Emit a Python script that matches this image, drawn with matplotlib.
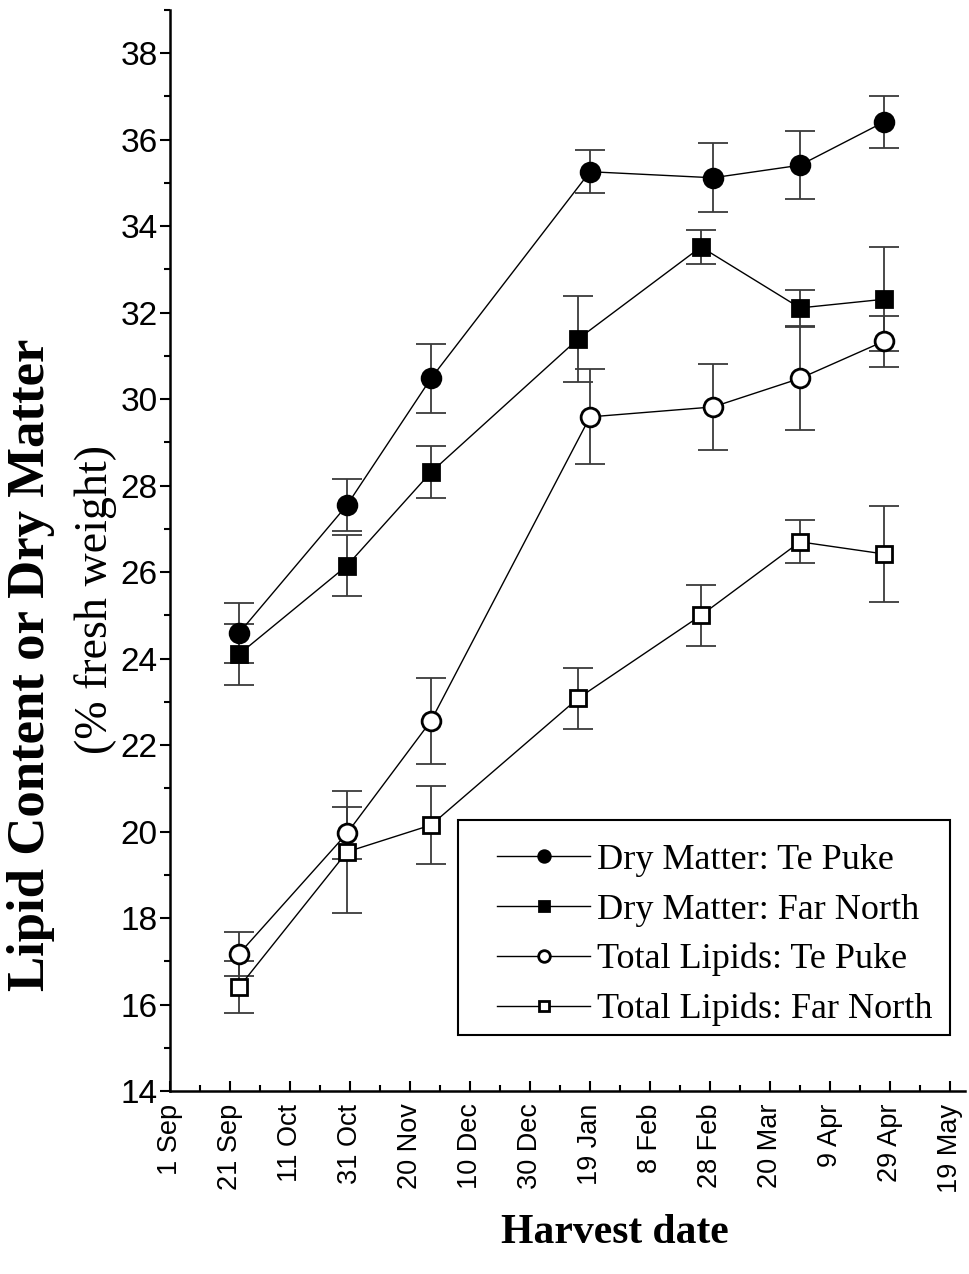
import matplotlib
matplotlib.use('Agg')
import matplotlib.pyplot as plt
import numpy as np
import pandas as pd
from matplotlib.ticker import MultipleLocator
from matplotlib.patches import Rectangle

# ---------------- data ----------------
origin = pd.Timestamp('2002-09-01')
tick_labels = ['1 Sep', '21 Sep', '11 Oct', '31 Oct', '20 Nov', '10 Dec', '30 Dec',
               '19 Jan', '8 Feb', '28 Feb', '20 Mar', '9 Apr', '29 Apr', '19 May']

dates_te_puke = ['2002-09-24', '2002-10-30', '2002-11-27', '2003-01-19',
                 '2003-03-01', '2003-03-30', '2003-04-27']
dates_far_north = ['2002-09-24', '2002-10-30', '2002-11-27', '2003-01-15',
                   '2003-02-25', '2003-03-30', '2003-04-27']

dm_te_puke = [24.59, 27.55, 30.48, 35.26, 35.12, 35.41, 36.41]
dm_te_puke_err = [0.69, 0.60, 0.80, 0.50, 0.80, 0.79, 0.60]
dm_far_north = [24.10, 26.15, 28.31, 31.39, 33.52, 32.11, 32.31]
dm_far_north_err = [0.70, 0.70, 0.60, 1.00, 0.40, 0.41, 1.20]
tl_te_puke = [17.17, 19.96, 22.56, 29.59, 29.82, 30.48, 31.34]
tl_te_puke_err = [0.50, 0.60, 1.00, 1.10, 1.00, 1.20, 0.59]
tl_far_north = [16.40, 19.53, 20.15, 23.08, 25.00, 26.70, 26.42]
tl_far_north_err = [0.60, 1.41, 0.90, 0.70, 0.70, 0.50, 1.10]

labels = ['Dry Matter: Te Puke', 'Dry Matter: Far North',
          'Total Lipids: Te Puke', 'Total Lipids: Far North']


def to_days(ds):
    return np.array([(pd.Timestamp(d) - origin).days for d in ds], dtype=float)


x_tp = to_days(dates_te_puke)
x_fn = to_days(dates_far_north)

# ---------------- figure ----------------
fig = plt.figure(figsize=(9.69, 12.74), dpi=100)
ax = fig.add_axes([170 / 969, 1 - 1091 / 1274, 795 / 969, 1081 / 1274])

series = [
    (x_tp, dm_te_puke, dm_te_puke_err, 'o', 'black', 13.5),
    (x_fn, dm_far_north, dm_far_north_err, 's', 'black', 12),
    (x_tp, tl_te_puke, tl_te_puke_err, 'o', 'white', 13.5),
    (x_fn, tl_far_north, tl_far_north_err, 's', 'white', 12),
]
handles = []
for (x, y, e, m, fc, ms), lab in zip(series, labels):
    ax.errorbar(x, y, yerr=e, fmt='none', ecolor='#3a3a3a', elinewidth=1.3,
                capsize=11, capthick=1.3, zorder=2)
    h, = ax.plot(x, y, '-', color='black', lw=1.0, marker=m, markersize=ms,
                 markerfacecolor=fc, markeredgecolor='black', markeredgewidth=2.0,
                 label=lab, zorder=3)
    handles.append(h)

ax.set_xlim(0, 265)
ax.set_ylim(14, 39)

ax.set_xticks(np.arange(0, 261, 20))
ax.set_xticklabels(tick_labels, rotation=90, fontfamily='Liberation Sans', fontsize=19.5)
ax.xaxis.set_minor_locator(MultipleLocator(10))
ax.yaxis.set_major_locator(MultipleLocator(2))
ax.yaxis.set_minor_locator(MultipleLocator(1))
for t in ax.get_yticklabels():
    t.set_fontfamily('Liberation Sans')
    t.set_fontsize(24)

ax.tick_params(axis='x', which='major', direction='in', length=7.5, width=1.5, pad=9)
ax.tick_params(axis='x', which='minor', direction='in', length=4.5, width=1.5)
ax.tick_params(axis='y', which='major', direction='out', length=7, width=1.5, pad=2)
ax.tick_params(axis='y', which='minor', direction='out', length=4.5, width=1.5)

for s in ['top', 'right']:
    ax.spines[s].set_visible(False)
for s in ['left', 'bottom']:
    ax.spines[s].set_linewidth(1.8)

# axis labels
fig.text(31 / 969, 1 - 665 / 1274, 'Lipid Content or Dry Matter', rotation=90,
         ha='center', va='center', fontfamily='Liberation Serif',
         fontweight='bold', fontsize=38)
fig.text(96 / 969, 1 - 600 / 1274, '(% fresh weight)', rotation=90,
         ha='center', va='center', fontfamily='Liberation Serif', fontsize=33)
fig.text(615 / 969, 1 - 1233 / 1274, 'Harvest date', ha='center', va='center',
         fontfamily='Liberation Serif', fontweight='bold', fontsize=30)

# legend box and entries
box = Rectangle(((458 - 170) / 795, (1091 - 1035) / 1081),
                (950 - 458) / 795, (1035 - 820) / 1081,
                transform=ax.transAxes, facecolor='white', edgecolor='black',
                linewidth=1.5, zorder=4)
ax.add_patch(box)
leg = ax.legend(handles=handles, loc='center left',
                bbox_to_anchor=((497 - 170) / 795, (1091 - 935) / 1081),
                borderaxespad=0, borderpad=0, frameon=False,
                prop={'family': 'Liberation Serif', 'size': 26}, markerscale=0.62,
                handlelength=2.58, handletextpad=0.19, labelspacing=0.45)
leg.set_zorder(5)

fig.savefig('out.png', dpi=100)
